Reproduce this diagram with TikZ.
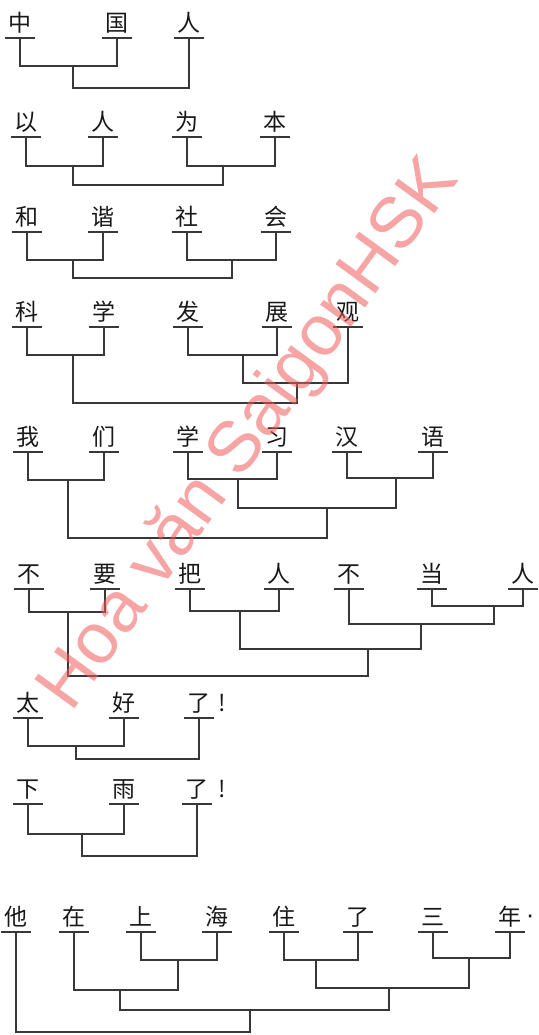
\documentclass[tikz,border=0pt]{standalone}
\usepackage{fontspec}
\newfontfamily\cjk{Noto Sans CJK SC}
\newfontfamily\wmfont{Liberation Sans}
\usetikzlibrary{calc}
\begin{document}
\begin{tikzpicture}[x=1pt,y=-1pt,
  ch/.style={font=\cjk\fontsize{23}{23}\selectfont, inner sep=0pt, minimum width=30pt,
             text height=15pt, text depth=6.5pt, anchor=south, text=black!90},
  punct/.style={font=\cjk\fontsize{23}{23}\selectfont, inner sep=0pt, text=black!90},
  dotp/.style={font=\wmfont\fontsize{26}{26}\selectfont, inner sep=0pt, text=black!90},
  ul/.style={line width=1.1pt, draw=black!78},
  br/.style={line width=1.1pt, draw=black!78},
  wm/.style={font=\wmfont\fontsize{72}{72}\selectfont, text={rgb,255:red,240;green,90;blue,90}, opacity=0.55, inner sep=0pt}
]
\fill[white] (0,0) rectangle (538,1035);
\useasboundingbox (0,0) rectangle (538,1035);

% Row 1
\node[ch] (a1) at (20,38) {中};
\node[ch] (a2) at (117,38) {国};
\node[ch] (a3) at (189,38) {人};
\coordinate (a12) at (73,66);
\coordinate (ar) at (130,88);
\draw[br] (a1.south) |- (a12) -| (a2.south);
\draw[br] (a12) |- (ar) -| (a3.south);

% Row 2
\node[ch] (b1) at (26,137) {以};
\node[ch] (b2) at (103,137) {人};
\node[ch] (b3) at (187,137) {为};
\node[ch] (b4) at (275,137) {本};
\coordinate (b12) at (73,166);
\coordinate (b34) at (223,166);
\coordinate (br) at (150,185);
\draw[br] (b1.south) |- (b12) -| (b2.south);
\draw[br] (b3.south) |- (b34) -| (b4.south);
\draw[br] (b12) |- (br) -| (b34);

% Row 3
\node[ch] (c1) at (27,232) {和};
\node[ch] (c2) at (103,232) {谐};
\node[ch] (c3) at (187,232) {社};
\node[ch] (c4) at (276,232) {会};
\coordinate (c12) at (73,260);
\coordinate (c34) at (232,260);
\coordinate (cr) at (150,278);
\draw[br] (c1.south) |- (c12) -| (c2.south);
\draw[br] (c3.south) |- (c34) -| (c4.south);
\draw[br] (c12) |- (cr) -| (c34);

% Row 4
\node[ch] (d1) at (27,327) {科};
\node[ch] (d2) at (104,327) {学};
\node[ch] (d3) at (188,327) {发};
\node[ch] (d4) at (277,327) {展};
\node[ch] (d5) at (348,327) {观};
\coordinate (d12) at (73,355);
\coordinate (d34) at (243,355);
\coordinate (d345) at (297,383);
\coordinate (dr) at (180,403);
\draw[br] (d1.south) |- (d12) -| (d2.south);
\draw[br] (d3.south) |- (d34) -| (d4.south);
\draw[br] (d34) |- (d345) -| (d5.south);
\draw[br] (d12) |- (dr) -| (d345);

% Row 5
\node[ch] (e1) at (28,452) {我};
\node[ch] (e2) at (104,452) {们};
\node[ch] (e3) at (188,452) {学};
\node[ch] (e4) at (277,452) {习};
\node[ch] (e5) at (347,452) {汉};
\node[ch] (e6) at (433,452) {语};
\coordinate (e12) at (68,480);
\coordinate (e34) at (238,479);
\coordinate (e56) at (396,478);
\coordinate (e3456) at (327,508);
\coordinate (er) at (200,538);
\draw[br] (e1.south) |- (e12) -| (e2.south);
\draw[br] (e3.south) |- (e34) -| (e4.south);
\draw[br] (e5.south) |- (e56) -| (e6.south);
\draw[br] (e34) |- (e3456) -| (e56);
\draw[br] (e12) |- (er) -| (e3456);

% Row 6
\node[ch] (f1) at (29,589) {不};
\node[ch] (f2) at (105,589) {要};
\node[ch] (f3) at (190,589) {把};
\node[ch] (f4) at (279,589) {人};
\node[ch] (f5) at (349,589) {不};
\node[ch] (f6) at (432,589) {当};
\node[ch] (f7) at (523,589) {人};
\coordinate (f12) at (68,612);
\coordinate (f34) at (240,611);
\coordinate (f67) at (494,606);
\coordinate (f567) at (421,624);
\coordinate (f3to7) at (368,649);
\coordinate (fr) at (220,676);
\draw[br] (f1.south) |- (f12) -| (f2.south);
\draw[br] (f3.south) |- (f34) -| (f4.south);
\draw[br] (f6.south) |- (f67) -| (f7.south);
\draw[br] (f5.south) |- (f567) -| (f67);
\draw[br] (f34) |- (f3to7) -| (f567);
\draw[br] (f12) |- (fr) -| (f3to7);

% Row 7
\node[ch] (g1) at (28,718) {太};
\node[ch] (g2) at (124,718) {好};
\node[ch] (g3) at (199,718) {了};
\node[punct, anchor=base] (g4) at ($(g3.base)+(23,0)$) {!};
\coordinate (g12) at (76,746);
\coordinate (gr) at (140,759);
\draw[br] (g1.south) |- (g12) -| (g2.south);
\draw[br] (g12) |- (gr) -| (g3.south);

% Row 8
\node[ch] (h1) at (28,804) {下};
\node[ch] (h2) at (124,804) {雨};
\node[ch] (h3) at (197,804) {了};
\node[punct, anchor=base] (h4) at ($(h3.base)+(25,0)$) {!};
\coordinate (h12) at (82,834);
\coordinate (hr) at (140,856);
\draw[br] (h1.south) |- (h12) -| (h2.south);
\draw[br] (h12) |- (hr) -| (h3.south);

% Row 9
\node[ch] (i1) at (16,932) {他};
\node[ch] (i2) at (74,932) {在};
\node[ch] (i3) at (141,932) {上};
\node[ch] (i4) at (217,932) {海};
\node[ch] (i5) at (284,932) {住};
\node[ch] (i6) at (358,932) {了};
\node[ch] (i7) at (433,932) {三};
\node[ch] (i8) at (510,932) {年};
\node[dotp, anchor=center] (i9) at ($(i8.south east)+(5,-13)$) {·};
\coordinate (i34) at (178,960);
\coordinate (i234) at (120,990);
\coordinate (i56) at (316,960);
\coordinate (i78) at (469,958);
\coordinate (i5678) at (389,988);
\coordinate (i2to8) at (250,1010);
\coordinate (ir) at (130,1032);
\draw[br] (i3.south) |- (i34) -| (i4.south);
\draw[br] (i2.south) |- (i234) -| (i34);
\draw[br] (i5.south) |- (i56) -| (i6.south);
\draw[br] (i7.south) |- (i78) -| (i8.south);
\draw[br] (i56) |- (i5678) -| (i78);
\draw[br] (i234) |- (i2to8) -| (i5678);
\draw[br] (i1.south) |- (ir) -| (i2to8);

% underlines
\foreach \n in {a1,a2,a3,b1,b2,b3,b4,c1,c2,c3,c4,d1,d2,d3,d4,d5,e1,e2,e3,e4,e5,e6,
                f1,f2,f3,f4,f5,f6,f7,g1,g2,g3,h1,h2,h3,i1,i2,i3,i4,i5,i6,i7,i8}
  \draw[ul] (\n.south west) -- (\n.south east);

% watermark
\node[wm, rotate=54] (wmark) at (250,435) {Hoa văn SaigonHSK};
\end{tikzpicture}
\end{document}
